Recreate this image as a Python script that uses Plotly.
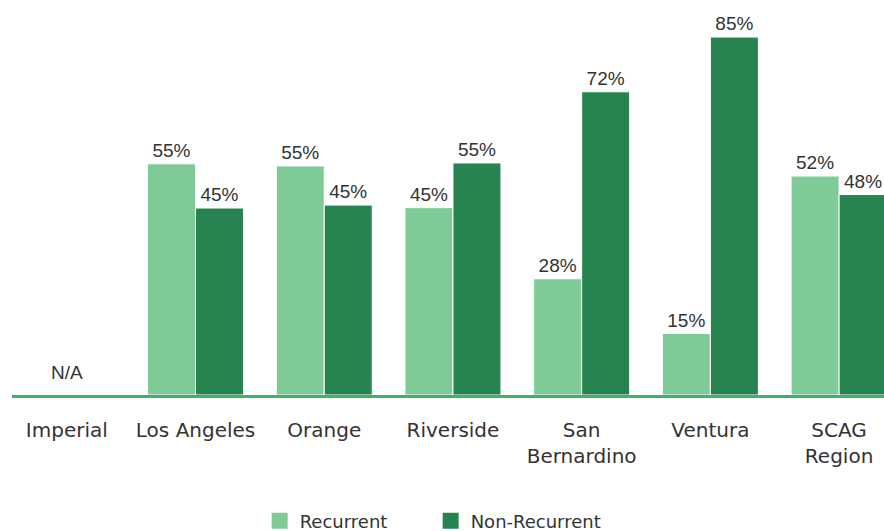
import plotly.graph_objects as go

categories = ["Imperial", "Los Angeles", "Orange", "Riverside", "San<br>Bernardino", "Ventura", "SCAG<br>Region"]
recurrent = [None, 54.9, 54.4, 44.5, 27.6, 14.6, 52.0]
non_recurrent = [None, 44.4, 45.1, 55.1, 72.0, 85.0, 47.6]
recurrent_labels = ["", "55%", "55%", "45%", "28%", "15%", "52%"]
non_recurrent_labels = ["", "45%", "45%", "55%", "72%", "85%", "48%"]
na_label = "N/A"
series_names = ["Recurrent", "Non-Recurrent"]

LIGHT = "#7fcb98"
DARK = "#27834f"
LINE = "#3db36a"
TXT = "#333333"
AXFONT = "DejaVu Sans, sans-serif"
LBLFONT = "Liberation Sans, Arial, sans-serif"

fig = go.Figure()
for name, vals, labels, col in [(series_names[0], recurrent, recurrent_labels, LIGHT),
                                (series_names[1], non_recurrent, non_recurrent_labels, DARK)]:
    fig.add_trace(go.Bar(
        name=name, x=categories, y=vals, text=labels,
        textposition="outside", cliponaxis=False, showlegend=False,
        marker=dict(color=col, line=dict(color="white", width=1)),
        textfont=dict(family=LBLFONT, size=19, color=TXT),
    ))
# legend entries with larger square swatches
for name, col in [(series_names[0], LIGHT), (series_names[1], DARK)]:
    fig.add_trace(go.Scatter(
        name=name, x=[None], y=[None], mode="markers",
        marker=dict(symbol="square", size=16, color=col), showlegend=True,
    ))

fig.add_annotation(x=categories[0], y=0, text=na_label, showarrow=False,
                   yanchor="bottom", yshift=10,
                   font=dict(family=LBLFONT, size=19, color=TXT))

fig.update_layout(
    width=884, height=531,
    margin=dict(l=12, r=0, t=0, b=136, autoexpand=False),
    plot_bgcolor="white", paper_bgcolor="white",
    barmode="group", bargap=0.254, bargroupgap=0,
    showlegend=True,
    legend=dict(orientation="h", x=0.284, xanchor="left",
                yref="container", y=(531 - 521) / 531, yanchor="middle",
                font=dict(family=AXFONT, size=18, color=TXT),
                entrywidth=126, itemwidth=30, traceorder="normal"),
    font=dict(family=AXFONT, color=TXT),
)
fig.update_xaxes(
    range=[-0.426, 6.349], showline=True, linecolor=LINE, linewidth=3,
    ticks="", tickfont=dict(family=AXFONT, size=20, color=TXT),
    ticklabelstandoff=15, showgrid=False, zeroline=False, automargin=False,
)
fig.update_yaxes(range=[0, 93.8], visible=False, showgrid=False, zeroline=False)

fig.write_html("out.html", config={"displayModeBar": False},
               post_script="document.body.style.margin='0';document.body.style.overflow='hidden';")
